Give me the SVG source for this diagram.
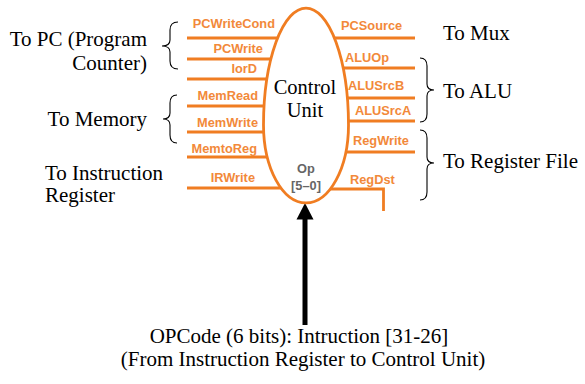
<svg xmlns="http://www.w3.org/2000/svg" width="585" height="384" viewBox="0 0 585 384">
<style>
.sig{fill:none;stroke:#F07D22;stroke-width:2.8}
.ol{fill:#fff;stroke:#F07D22;stroke-width:2.8}
.lab{font-family:"Liberation Sans",Arial,sans-serif;font-weight:bold;font-size:12.8px;fill:#F2893A}
.lt{text-anchor:end}
.tx{font-family:"Liberation Serif","Times New Roman",serif;font-size:21px;fill:#000}
.cu{font-size:20.5px}
.br{fill:none;stroke:#000;stroke-width:1.1}
.op{font-family:"Liberation Sans",Arial,sans-serif;font-weight:bold;font-size:12.8px;fill:#666;text-anchor:middle}
</style>
<rect width="585" height="384" fill="#fff"/>
<g id="connectors">
<path class="sig" d="M187,38H278 M187,59H271 M187,79H267 M187,106H264.5 M187,132H264 M187,157H267.5 M187,188H281"/>
<path class="sig" d="M334,38H415 M342.5,68H415 M347,98H415 M348,121H415 M345.5,152H415 M330,189H383.5V211"/>
<line x1="305" y1="218" x2="305" y2="325" stroke="#000" stroke-width="5"/>
<polygon points="305,203 296.5,219.5 313.5,219.5" fill="#000"/>
</g>
<g id="control-unit">
<path class="ol" d="M263.5,125 A42.5,117 0 0 1 348.5,125 A42.5,78 0 0 1 263.5,125 Z"/>
<text class="tx cu" x="305" y="94" text-anchor="middle">Control</text>
<text class="tx cu" x="305" y="117" text-anchor="middle">Unit</text>
<text class="op" x="306" y="173">Op</text>
<text class="op" x="306" y="190">[5–0]</text>
</g>
<g id="left-signals">
<text class="lab lt" x="275" y="28">PCWriteCond</text>
<text class="lab lt" x="263" y="53">PCWrite</text>
<text class="lab lt" x="257" y="73">IorD</text>
<text class="lab lt" x="258" y="100">MemRead</text>
<text class="lab lt" x="258" y="127">MemWrite</text>
<text class="lab lt" x="257" y="153">MemtoReg</text>
<text class="lab lt" x="255" y="182">IRWrite</text>
</g>
<g id="right-signals">
<text class="lab" x="341" y="30">PCSource</text>
<text class="lab" x="345" y="62">ALUOp</text>
<text class="lab" x="348" y="90">ALUSrcB</text>
<text class="lab" x="355" y="115">ALUSrcA</text>
<text class="lab" x="353" y="145">RegWrite</text>
<text class="lab" x="350" y="184">RegDst</text>
</g>
<g id="to-pc">
<path class="br" d="M178,22 Q170,22 170,30 L170,40 Q170,46 162,46 Q170,46 170,52 L170,61 Q170,69 178,69"/>
<text class="tx" x="147" y="46" text-anchor="end">To PC (Program</text>
<text class="tx" x="147" y="70" text-anchor="end">Counter)</text>
</g>
<g id="to-memory">
<path class="br" d="M177,95 Q170,95 170,103 L170,113 Q170,119 163,119 Q170,119 170,125 L170,135 Q170,143 177,143"/>
<text class="tx" x="147" y="126" text-anchor="end">To Memory</text>
</g>
<g id="to-ir">
<text class="tx" x="45" y="180">To Instruction</text>
<text class="tx" x="45" y="202">Register</text>
</g>
<g id="to-mux">
<text class="tx" x="443" y="40">To Mux</text>
</g>
<g id="to-alu">
<path class="br" d="M420,58 Q427,58 427,66 L427,84 Q427,90 434,90 Q427,90 427,96 L427,114 Q427,122 420,122"/>
<text class="tx" x="443" y="98">To ALU</text>
</g>
<g id="to-regfile">
<path class="br" d="M420,130 Q427,130 427,138 L427,157 Q427,163 434,163 Q427,163 427,169 L427,192 Q427,200 420,200"/>
<text class="tx" x="443" y="168">To Register File</text>
</g>
<g id="opcode">
<text class="tx" x="299" y="343" text-anchor="middle">OPCode (6 bits): Intruction [31-26]</text>
<text class="tx" x="303" y="366" text-anchor="middle">(From Instruction Register to Control Unit)</text>
</g>
</svg>
